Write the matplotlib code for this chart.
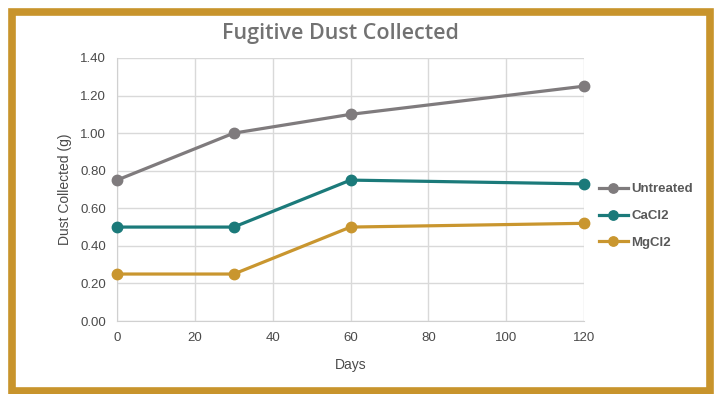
import matplotlib.pyplot as plt
from matplotlib.patches import Rectangle

# data
days = [0, 30, 60, 120]
untreated = [0.75, 1.00, 1.10, 1.25]
cacl2 = [0.50, 0.50, 0.75, 0.73]
mgcl2 = [0.25, 0.25, 0.50, 0.52]
series_names = ["Untreated", "CaCl2", "MgCl2"]
colors = ["#7f7b7d", "#1b7a7a", "#c9962f"]

plt.rcParams['font.family'] = ['Liberation Sans Narrow', 'Liberation Sans', 'DejaVu Sans']

fig = plt.figure(figsize=(7.19, 3.94), dpi=100)
ax = fig.add_axes([117 / 719, 1 - 321 / 394, 467 / 719, 263 / 394])

for vals, name, c in zip([untreated, cacl2, mgcl2], series_names, colors):
    ax.plot(days, vals, color=c, lw=2.3, marker='o', ms=7.5, label=name, zorder=3, clip_on=False)

ax.set_xlim(0, 120)
ax.set_ylim(0, 1.4)
ax.set_xticks(range(0, 121, 20))
ax.set_yticks([i * 0.2 for i in range(8)])
ax.set_yticklabels([f"{i * 0.2:.2f}" for i in range(8)])
ax.grid(True, color='#d9d9d9', lw=1)
ax.set_axisbelow(True)
for s in ['top', 'right']:
    ax.spines[s].set_visible(False)
for s in ['left', 'bottom']:
    ax.spines[s].set_color('#d0d0d0')
ax.tick_params(length=0, labelsize=9.5, colors='#4a4a4a', pad=8)
ax.set_xlabel("Days", fontsize=10, color='#4a4a4a', labelpad=10)
ax.set_ylabel("Dust Collected (g)", fontsize=10, color='#4a4a4a', labelpad=6)

fig.text(340 / 719, 1 - 33 / 394, "Fugitive Dust Collected", ha='center', va='center',
         fontsize=15.5, color='#727272', fontweight='semibold', family=['Open Sans', 'DejaVu Sans'])

leg = fig.legend(loc='center left', bbox_to_anchor=(587 / 719, 1 - 216 / 394), frameon=False,
                 fontsize=9.5, handlelength=2.2, handletextpad=0.25, labelspacing=1.1,
                 markerscale=0.9)
for t in leg.get_texts():
    t.set_color('#595959')
    t.set_fontweight('bold')

fig.patches.append(Rectangle((12 / 719, 3 / 394), 698 / 719, 379 / 394, transform=fig.transFigure,
                             fill=False, edgecolor='#c8942c', lw=5.5))

fig.savefig("out.png", dpi=100)
